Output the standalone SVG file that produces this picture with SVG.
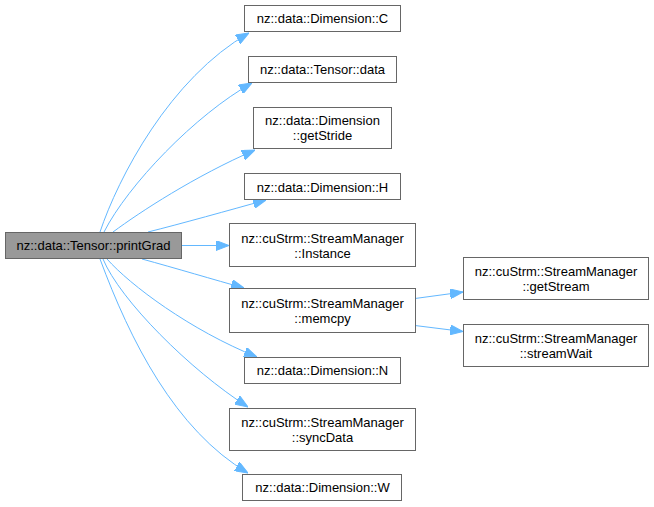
<svg xmlns="http://www.w3.org/2000/svg" width="654" height="507" viewBox="0 0 654 507">
<style>
.node rect{fill:#ffffff;stroke:#666666;stroke-width:1}
.root rect{fill:#999999;stroke:#666666;stroke-width:1}
text{font-family:"Liberation Sans",Arial,Helvetica,sans-serif;font-size:13px;fill:#000000;text-anchor:middle}
.edge{fill:none;stroke:#63b8ff;stroke-width:1}
</style>
<defs>
<marker id="arr" viewBox="0 0 13 10" refX="13" refY="5" markerWidth="13" markerHeight="10" markerUnits="userSpaceOnUse" orient="auto">
<path d="M0,0 L13,5 L0,10 z" fill="#63b8ff" stroke="#63b8ff" stroke-width="1"/>
</marker>
</defs>
<rect width="654" height="507" fill="#ffffff"/>
<g id="connectors">
<path class="edge" marker-end="url(#arr)" d="M100,232 C118,178 170,78 249,33"/>
<path class="edge" marker-end="url(#arr)" d="M104,232 C128,185 195,115 252,83"/>
<path class="edge" marker-end="url(#arr)" d="M113,232 C140,212 195,176 255,150"/>
<path class="edge" marker-end="url(#arr)" d="M148,232 C180,224 230,210 266,200"/>
<path class="edge" marker-end="url(#arr)" d="M182,245.5 L229,245.5"/>
<path class="edge" marker-end="url(#arr)" d="M142,259 C175,268 215,280 244,288"/>
<path class="edge" marker-end="url(#arr)" d="M107,259 C130,285 190,330 257,357"/>
<path class="edge" marker-end="url(#arr)" d="M103,259 C120,300 190,370 248,407"/>
<path class="edge" marker-end="url(#arr)" d="M100,259 C130,340 175,430 248,473"/>
<path class="edge" marker-end="url(#arr)" d="M415,298.5 L463,292"/>
<path class="edge" marker-end="url(#arr)" d="M415,325.5 L463,331.5"/>
</g>
<g id="printGrad" class="root">
<rect x="5.5" y="232.5" width="176" height="26"/>
<text x="93.5" y="249.5">nz::data::Tensor::printGrad</text>
</g>
<g id="dimC" class="node">
<rect x="244.5" y="5.5" width="156" height="26"/>
<text x="322.5" y="23">nz::data::Dimension::C</text>
</g>
<g id="tensorData" class="node">
<rect x="248.5" y="56.5" width="148" height="26"/>
<text x="322.5" y="74">nz::data::Tensor::data</text>
</g>
<g id="getStride" class="node">
<rect x="253.5" y="107.5" width="138" height="41"/>
<text x="322.5" y="125">nz::data::Dimension</text>
<text x="322.5" y="140">::getStride</text>
</g>
<g id="dimH" class="node">
<rect x="244.5" y="173.5" width="156" height="26"/>
<text x="322.5" y="191.5">nz::data::Dimension::H</text>
</g>
<g id="instance" class="node">
<rect x="229.5" y="223.5" width="186" height="43"/>
<text x="322.5" y="242.5">nz::cuStrm::StreamManager</text>
<text x="322.5" y="257.5">::Instance</text>
</g>
<g id="memcpy" class="node">
<rect x="229.5" y="288.5" width="186" height="44"/>
<text x="322.5" y="307.5">nz::cuStrm::StreamManager</text>
<text x="322.5" y="322.5">::memcpy</text>
</g>
<g id="dimN" class="node">
<rect x="244.5" y="357.5" width="156" height="26"/>
<text x="322.5" y="375">nz::data::Dimension::N</text>
</g>
<g id="syncData" class="node">
<rect x="229.5" y="408.5" width="186" height="42"/>
<text x="322.5" y="427">nz::cuStrm::StreamManager</text>
<text x="322.5" y="442">::syncData</text>
</g>
<g id="dimW" class="node">
<rect x="242.5" y="474.5" width="159" height="26"/>
<text x="322.5" y="492">nz::data::Dimension::W</text>
</g>
<g id="getStream" class="node">
<rect x="463.5" y="257.5" width="185" height="42"/>
<text x="556" y="275.5">nz::cuStrm::StreamManager</text>
<text x="556" y="290.5">::getStream</text>
</g>
<g id="streamWait" class="node">
<rect x="463.5" y="324.5" width="185" height="42"/>
<text x="556" y="342.5">nz::cuStrm::StreamManager</text>
<text x="556" y="357.5">::streamWait</text>
</g>
</svg>
